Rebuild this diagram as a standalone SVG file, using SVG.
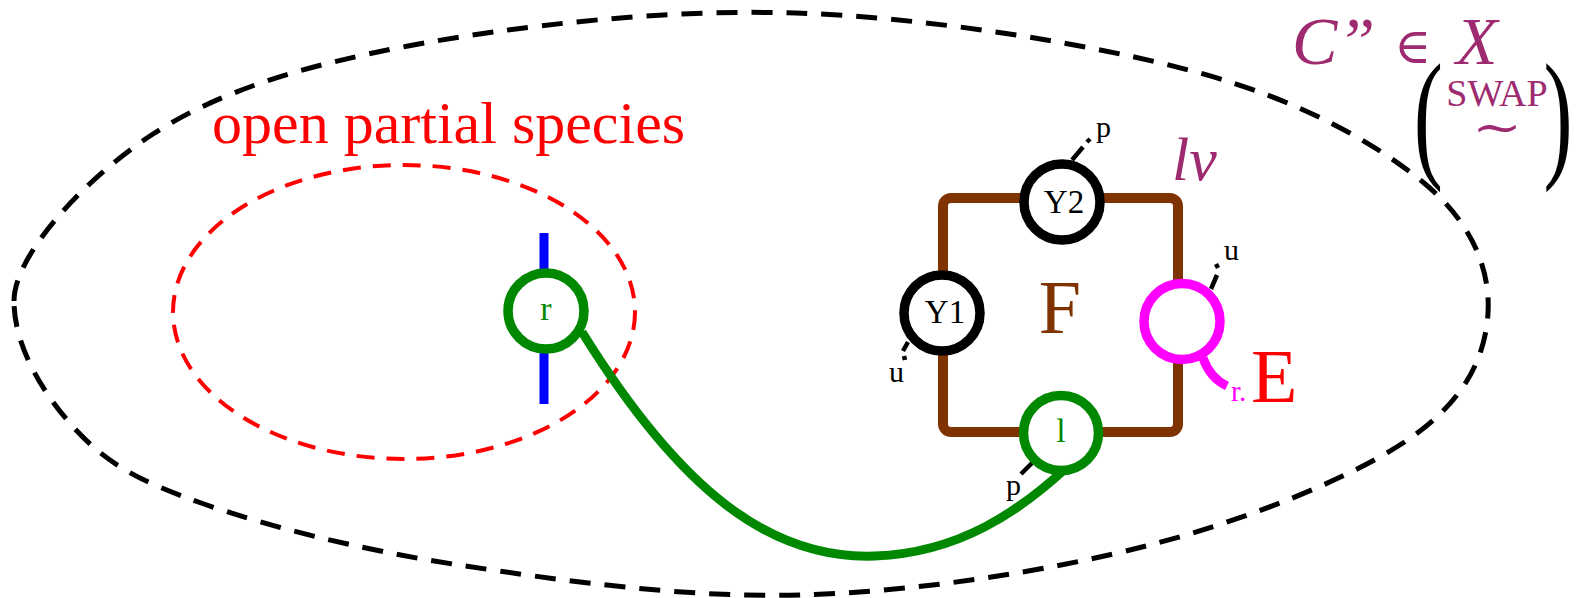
<svg xmlns="http://www.w3.org/2000/svg" width="1576" height="598" viewBox="0 0 1576 598">
<style>
  .serif { font-family: "Liberation Serif", "DejaVu Serif", serif; }
  .port { stroke: #000; stroke-width: 4.5; fill: none; }
  .portlbl { font-family: "Liberation Serif", serif; font-size: 30px; fill: #000; }
  .node { fill: #fff; stroke-width: 9.5; }
  .purple { fill: #9e2a6f; }
</style>
<rect width="1576" height="598" fill="#fff"/>

<g id="outer-region">
  <path d="M 14 301 C 14 254, 87.3 176.5, 153 134 C 218.7 91.5, 300.8 66.2, 408 46 C 515.2 25.8, 664.7 8.7, 796 13 C 927.3 17.3, 1091.3 43.7, 1196 72 C 1300.7 100.3, 1375.3 142.8, 1424 183 C 1472.7 223.2, 1490.5 270.3, 1488 313 C 1485.5 355.7, 1466 400.2, 1409 439 C 1352 477.8, 1247.5 520, 1146 546 C 1044.5 572, 914.5 591.8, 800 595 C 685.5 598.2, 558.3 580.2, 459 565 C 359.7 549.8, 267.7 526.3, 204 504 C 140.3 481.7, 108.7 464.8, 77 431 C 45.3 397.2, 14 348, 14 301 Z" fill="none" stroke="#000" stroke-width="5" stroke-dasharray="21 14"/>
</g>

<g id="open-partial-species">
  <ellipse cx="404" cy="312" rx="231" ry="147" fill="none" stroke="#ff0000" stroke-width="4" stroke-dasharray="18 12"/>
  <text x="212" y="143" class="serif" font-size="60" fill="#ff0000">open partial species</text>
</g>

<g id="title">
  <text x="1292" y="64" class="serif purple" font-size="68" font-style="italic">C”</text>
  <text x="1394" y="63" class="serif purple" font-size="50">∈</text>
  <text x="1456" y="64" class="serif purple" font-size="68" font-style="italic">X</text>
  <text transform="translate(1418,162) scale(0.62,1)" x="-6.8" y="0" class="serif" font-size="141" fill="#000">(</text>
  <text transform="translate(1546,162) scale(0.62,1)" x="-4" y="0" class="serif" font-size="141" fill="#000">)</text>
  <text x="1497" y="106" class="serif purple" font-size="38" text-anchor="middle">SWAP</text>
  <text transform="translate(1497,143) scale(1.3,1)" x="0" y="0" class="serif purple" font-size="46" text-anchor="middle">∼</text>
</g>

<g id="connectors">
  <path d="M 582 332 C 680 490, 770 560, 875 556 C 960 553, 1020 510, 1064 470" fill="none" stroke="#008800" stroke-width="9"/>
</g>

<g id="node-r">
  <line x1="544" y1="233" x2="544" y2="404" stroke="#0000ff" stroke-width="9"/>
  <circle cx="546" cy="311" r="38" class="node" stroke="#008800"/>
  <text x="546" y="320" class="serif" font-size="34" fill="#008800" text-anchor="middle">r</text>
</g>

<g id="node-F">
  <rect x="943" y="198" width="235" height="234" rx="8" ry="8" fill="none" stroke="#7f3300" stroke-width="10"/>
  <text x="1060" y="333" class="serif" font-size="76" fill="#7f3300" text-anchor="middle">F</text>
  <text x="1172" y="180" class="serif purple" font-size="62" font-style="italic">lv</text>
</g>

<g id="node-Y2">
  <line x1="1072" y1="160" x2="1083" y2="147" class="port"/>
  <line x1="1087" y1="139" x2="1090" y2="142" class="port" stroke-width="3"/>
  <text x="1096" y="137" class="portlbl">p</text>
  <circle cx="1062" cy="202" r="38" class="node" stroke="#000"/>
  <text x="1064" y="213" class="serif" font-size="33" fill="#000" text-anchor="middle">Y2</text>
</g>

<g id="node-Y1">
  <line x1="908" y1="342" x2="903" y2="351" class="port"/>
  <line x1="904" y1="356" x2="905" y2="360" class="port" stroke-width="3"/>
  <text x="889" y="382" class="portlbl">u</text>
  <circle cx="942" cy="313" r="38" class="node" stroke="#000"/>
  <text x="945" y="323" class="serif" font-size="33" fill="#000" text-anchor="middle">Y1</text>
</g>

<g id="node-E">
  <line x1="1211" y1="289" x2="1217" y2="275" class="port"/>
  <line x1="1216" y1="264" x2="1218" y2="268" class="port" stroke-width="3"/>
  <text x="1224" y="260" class="portlbl">u</text>
  <path d="M 1203 358 Q 1210 378 1227 386" fill="none" stroke="#ff00ff" stroke-width="9"/>
  <circle cx="1182" cy="321.5" r="38" class="node" stroke="#ff00ff"/>
  <text x="1231" y="401" class="serif" font-size="29" fill="#ff00ff">r.</text>
  <text x="1251" y="402" class="serif" font-size="76" fill="#ff0000">E</text>
</g>

<g id="node-l">
  <line x1="1032" y1="463" x2="1021" y2="474" class="port"/>
  <text x="1006" y="495" class="portlbl">p</text>
  <circle cx="1061" cy="433" r="37.5" class="node" stroke="#008800"/>
  <text x="1061" y="442" class="serif" font-size="34" fill="#008800" text-anchor="middle">l</text>
</g>
</svg>
